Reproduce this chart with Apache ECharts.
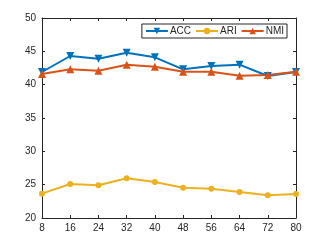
<!DOCTYPE html>
<html><head><meta charset="utf-8">
<script src="https://cdn.jsdelivr.net/npm/echarts@6/dist/echarts.min.js"></script>
<style>html,body{margin:0;padding:0;background:#fff}#c{width:327px;height:245px}</style>
</head><body><div id="c"></div>
<script>
const xValues = [8, 16, 24, 32, 40, 48, 56, 64, 72, 80];
const acc = [41.9, 44.3, 43.9, 44.8, 44.1, 42.3, 42.8, 43.0, 41.3, 41.9];
const ari = [23.65, 25.1, 24.9, 25.95, 25.4, 24.55, 24.4, 23.9, 23.4, 23.6];
const nmi = [41.6, 42.3, 42.1, 43.0, 42.7, 41.95, 41.95, 41.35, 41.45, 41.95];
const seriesNames = ['ACC', 'ARI', 'NMI'];
const colors = ['#0072BD', '#EDB120', '#D95319'];

const chart = echarts.init(document.getElementById('c'), null, {renderer: 'canvas'});
const axisCommon = {
  axisLine: {show: true, onZero: false, lineStyle: {color: '#262626', width: 1}},
  axisTick: {show: true, inside: true, length: 3, lineStyle: {color: '#262626'}},
  splitLine: {show: false},
};
const font = 'Liberation Sans, Arial, sans-serif';
function mk(name, data, color, symbol, size, rotate) {
  return {
    name, type: 'line', data: xValues.map((x, i) => [x, data[i]]),
    symbol, symbolSize: size, symbolRotate: rotate || 0,
    lineStyle: {color, width: 2}, itemStyle: {color},
    showAllSymbol: true, animation: false,
  };
}
chart.setOption({
  animation: false,
  grid: {left: 42, right: 31, top: 18, bottom: 27},
  legend: {
    data: seriesNames,
    right: 40, top: 24,
    orient: 'horizontal',
    itemWidth: 22, itemHeight: 8, itemGap: 4,
    padding: [2, 3, 2, 3],
    borderColor: '#262626', borderWidth: 1,
    backgroundColor: '#fff',
    textStyle: {fontFamily: font, fontSize: 10, color: '#262626', padding: [0, 0, 0, -3]},
  },
  xAxis: [
    Object.assign({type: 'value', min: 8, max: 80, interval: 8, position: 'bottom',
      axisLabel: {fontFamily: font, fontSize: 10, color: '#262626', margin: 5}}, axisCommon),
    Object.assign({type: 'value', min: 8, max: 80, interval: 8, position: 'top',
      axisLabel: {show: false}}, axisCommon),
  ],
  yAxis: [
    Object.assign({type: 'value', min: 20, max: 50, interval: 5, position: 'left',
      axisLabel: {fontFamily: font, fontSize: 10, color: '#262626', margin: 6}}, axisCommon),
    Object.assign({type: 'value', min: 20, max: 50, interval: 5, position: 'right',
      axisLabel: {show: false}}, axisCommon),
  ],
  series: [
    mk('ACC', acc, colors[0], 'triangle', 8, 180),
    mk('ARI', ari, colors[1], 'circle', 6),
    mk('NMI', nmi, colors[2], 'triangle', 8),
  ],
});
</script></body></html>
